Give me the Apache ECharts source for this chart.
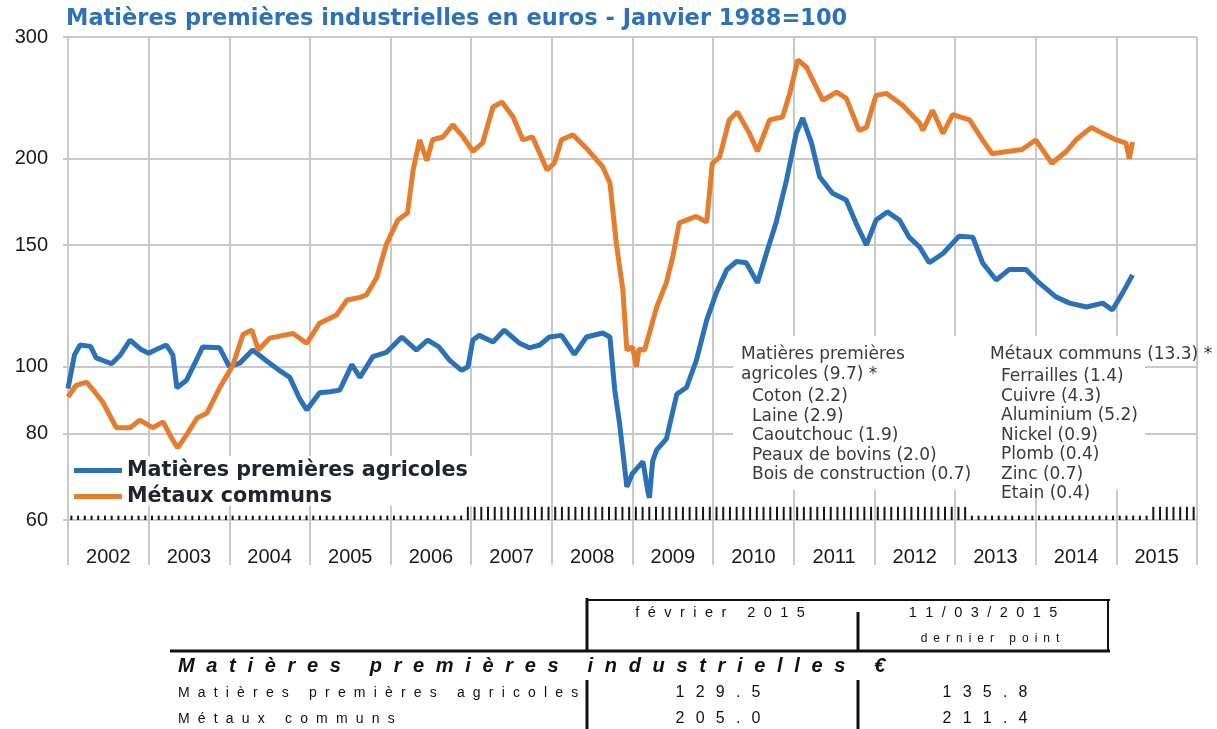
<!DOCTYPE html>
<html>
<head>
<meta charset="utf-8">
<title>Matières premières industrielles en euros</title>
<script src="https://cdn.jsdelivr.net/npm/echarts@6/dist/echarts.min.js"></script>
<style>
  html, body { margin: 0; padding: 0; background: #fff; }
  #main { width: 1217px; height: 729px; }
</style>
</head>
<body>
<div id="main"></div>
<script>
// ---- données (indice, janvier 1988 = 100) ----
var years = ['2002', '2003', '2004', '2005', '2006', '2007', '2008', '2009', '2010', '2011', '2012', '2013', '2014', '2015'];
var yTicks = [60, 80, 100, 150, 200, 300];

var agriDates = [2002.00, 2002.08, 2002.15, 2002.28, 2002.35, 2002.54, 2002.65, 2002.77, 2002.90, 2003.00,
  2003.10, 2003.22, 2003.30, 2003.35, 2003.47, 2003.57, 2003.67, 2003.88, 2004.00, 2004.13,
  2004.29, 2004.46, 2004.63, 2004.75, 2004.87, 2004.96, 2005.12, 2005.25, 2005.37, 2005.52,
  2005.62, 2005.78, 2005.95, 2006.14, 2006.32, 2006.46, 2006.60, 2006.73, 2006.88, 2006.96,
  2007.02, 2007.10, 2007.27, 2007.41, 2007.60, 2007.72, 2007.85, 2007.97, 2008.12, 2008.28,
  2008.43, 2008.63, 2008.72, 2008.78, 2008.84, 2008.93, 2009.00, 2009.13, 2009.19, 2009.21,
  2009.25, 2009.30, 2009.42, 2009.55, 2009.67, 2009.79, 2009.92, 2010.04, 2010.17, 2010.29,
  2010.41, 2010.55, 2010.66, 2010.78, 2010.91, 2011.03, 2011.11, 2011.22, 2011.32, 2011.48,
  2011.65, 2011.77, 2011.90, 2012.02, 2012.16, 2012.31, 2012.43, 2012.56, 2012.68, 2012.85,
  2013.05, 2013.22, 2013.34, 2013.51, 2013.67, 2013.88, 2014.04, 2014.25, 2014.42, 2014.63,
  2014.83, 2014.95, 2015.08, 2015.20];
var agriValues = [93, 104, 107.5, 107, 103, 101, 104, 109.3, 106, 104.6,
  106, 107.5, 104, 93.2, 95.6, 101, 106.8, 106.5, 100, 101.2,
  105.7, 102, 98.6, 96.5, 90, 86.6, 91.7, 92, 92.5, 100.7,
  96.5, 103.4, 104.9, 110.4, 105.7, 109.3, 106.8, 102.2, 98.8, 100,
  109.3, 111, 108.6, 113, 108.1, 106.5, 107.5, 110.4, 111, 104.2,
  110.4, 111.9, 110.4, 92.5, 82.7, 67, 70.1, 72.9, 66, 64.6,
  73, 75.8, 78.6, 91.3, 93.3, 102, 116.8, 128, 138.2, 142,
  141.4, 132.3, 145.8, 161.5, 186.3, 217.6, 229, 210.6, 188.3, 178.2,
  174.3, 161.5, 150, 163, 167.5, 163, 154, 149, 141.4, 145.8,
  154.5, 154, 141.4, 133.5, 138.2, 138.2, 132.3, 126.2, 123.6, 122,
  123.6, 120.8, 128, 135.8];

var metalDates = [2002.00, 2002.10, 2002.23, 2002.33, 2002.43, 2002.60, 2002.77, 2002.89, 2003.05, 2003.18,
  2003.28, 2003.36, 2003.48, 2003.60, 2003.72, 2003.88, 2004.04, 2004.17, 2004.28, 2004.36,
  2004.50, 2004.79, 2004.96, 2005.12, 2005.33, 2005.46, 2005.62, 2005.70, 2005.83, 2005.95,
  2006.09, 2006.21, 2006.28, 2006.36, 2006.45, 2006.52, 2006.65, 2006.77, 2006.90, 2007.02,
  2007.14, 2007.27, 2007.38, 2007.52, 2007.64, 2007.76, 2007.94, 2008.03, 2008.12, 2008.26,
  2008.43, 2008.63, 2008.72, 2008.80, 2008.88, 2008.93, 2009.00, 2009.05, 2009.08, 2009.15,
  2009.30, 2009.42, 2009.50, 2009.58, 2009.79, 2009.92, 2009.99, 2010.08, 2010.20, 2010.30,
  2010.45, 2010.55, 2010.70, 2010.86, 2010.95, 2011.05, 2011.16, 2011.28, 2011.36, 2011.53,
  2011.65, 2011.81, 2011.90, 2012.02, 2012.15, 2012.35, 2012.56, 2012.60, 2012.72, 2012.85,
  2012.97, 2013.18, 2013.34, 2013.46, 2013.67, 2013.83, 2014.00, 2014.20, 2014.38, 2014.50,
  2014.69, 2014.83, 2015.00, 2015.12, 2015.16, 2015.20];
var metalValues = [90.4, 94, 95, 92, 88.9, 81.6, 81.6, 83.7, 81.6, 83.2,
  79, 76.3, 80, 84.3, 85.6, 93.2, 100.2, 111.3, 113, 105.7,
  110, 111.7, 108.1, 115.6, 118.8, 124.9, 126, 127, 134.7, 150.6,
  163, 166.9, 192.6, 212.9, 198.7, 213, 215, 224, 215, 205,
  210.6, 237.6, 241.5, 229.8, 212.9, 215, 192.6, 197, 213, 216.6,
  207, 194.7, 184.4, 150.6, 129.3, 105.7, 106.8, 100, 106, 105.7,
  122, 132.3, 144.3, 161.5, 165, 162, 197, 201, 227.6, 233.7,
  217.6, 205, 227.6, 229.8, 248.6, 278, 271, 253.6, 243, 249.6,
  244.7, 219.8, 222, 247, 248.6, 239, 225.3, 219.8, 235, 217.6,
  231.6, 227.6, 212.9, 203.3, 205, 206.2, 212.9, 197, 205, 213,
  222, 217.6, 212.9, 210.6, 200, 211.4];

// petites graduations mensuelles du bas : périodes où elles sont hautes
var tallTickPeriods = [[2006.92, 2013.17], [2015.42, 2016]];

var agriTitle = ['Matières premières', 'agricoles (9.7) *'];
var agriWeights = ['Coton (2.2)', 'Laine (2.9)', 'Caoutchouc (1.9)', 'Peaux de bovins (2.0)', 'Bois de construction (0.7)'];
var metalTitle = 'Métaux communs (13.3) *';
var metalWeights = ['Ferrailles (1.4)', 'Cuivre (4.3)', 'Aluminium (5.2)', 'Nickel (0.9)', 'Plomb (0.4)', 'Zinc (0.7)', 'Etain (0.4)'];

var tableHead = ['février 2015', '11/03/2015', 'dernier point'];
var tableGroup = 'Matières premières industrielles €';
var tableRows = ['Matières premières agricoles', 'Métaux communs'];
var febValues = ['129.5', '205.0'];
var lastValues = ['135.8', '211.4'];

// ---- construction ----
var BLUE = '#2a71b8', ORANGE = '#e67d2e', GRID = '#c9c9c9';
var wide = '"DejaVu Sans", "Noto Sans", sans-serif';
var arial = '"Liberation Sans", Arial, sans-serif';

function pts(dates, values) {
  return dates.map(function (d, i) { return [d, Math.log10(values[i])]; });
}
function spaced(s, gap) {
  return s.split('').join(gap);
}

var tickBars = [];
for (var y = 2002; y < 2016; y++) {
  for (var m = 0; m < 12; m++) {
    var t = y + (m + 0.5) / 12;
    var tall = tallTickPeriods.some(function (p) { return t >= p[0] && t < p[1]; });
    tickBars.push([t, tall ? 3 : 1]);
  }
}

var yTickPos = yTicks.map(function (v) { return Math.log10(v); });

var graphics = [
  // fonds blancs sous la légende et sous l'encadré des pondérations
  { type: 'rect', z: 1, shape: { x: 70, y: 456, width: 405, height: 50 }, style: { fill: '#fff' } },
  { type: 'rect', z: 1, shape: { x: 733, y: 336, width: 412, height: 154 }, style: { fill: '#fff' } }
];
function addText(txt, x, y, font, size, color, align, extra) {
  var st = { text: txt, x: x, y: y, fill: color, fontFamily: font, fontSize: size, align: align || 'left', verticalAlign: 'middle' };
  if (extra) for (var k in extra) st[k] = extra[k];
  graphics.push({ type: 'text', z: 5, style: st });
}
function addLine(x1, y1, x2, y2, w) {
  graphics.push({ type: 'line', z: 5, shape: { x1: x1, y1: y1, x2: x2, y2: y2 }, style: { stroke: '#111', lineWidth: w } });
}

agriTitle.forEach(function (s, i) { addText(s, 741, 355 + i * 20, wide, 17, '#3a3a3a'); });
agriWeights.forEach(function (s, i) { addText(s, 752, 397 + i * 19.5, wide, 17, '#3a3a3a'); });
addText(metalTitle, 990, 355, wide, 17, '#3a3a3a');
metalWeights.forEach(function (s, i) { addText(s, 1001, 377 + i * 19.5, wide, 17, '#3a3a3a'); });

// tableau du bas
addLine(587, 600, 1110, 600, 2);
addLine(587, 598, 587, 652, 3);
addLine(858, 612, 858, 652, 3);
addLine(1108, 600, 1108, 652, 2);
addLine(170, 651, 1110, 651, 3);
addLine(587, 680, 587, 729, 3);
addLine(858, 680, 858, 729, 3);
addText(spaced(tableHead[0], '\u2002\u200a'), 720, 613, arial, 14.5, '#111', 'center');
addText(spaced(tableHead[1], '\u2002\u200a'), 983, 613, arial, 14.5, '#111', 'center');
addText(spaced(tableHead[2], '\u2002'), 990, 639, arial, 12, '#111', 'center');
addText(spaced(tableGroup, '\u2002\u200a'), 178, 666, arial, 20, '#111', 'left', { fontWeight: 'bold', fontStyle: 'italic' });
tableRows.forEach(function (s, i) {
  var yy = 693 + i * 26;
  addText(spaced(s, '\u2002\u200a'), 178, yy, arial, 14, '#111');
  addText(spaced(febValues[i], '\u2002\u2009'), 718, yy, arial, 16, '#111', 'center');
  addText(spaced(lastValues[i], '\u2002\u2009'), 985, yy, arial, 16, '#111', 'center');
});

var myChart = echarts.init(document.getElementById('main'));

var option = {
  animation: false,
  backgroundColor: '#fff',
  title: {
    text: 'Matières premières industrielles en euros - Janvier 1988=100',
    left: 66,
    top: 8,
    padding: 0,
    textStyle: { color: '#2f70bb', fontSize: 22.5, fontWeight: 'bold', fontFamily: wide }
  },
  legend: {
    data: ['Matières premières agricoles', 'Métaux communs'],
    orient: 'vertical',
    left: 74,
    top: 460,
    padding: 0,
    itemGap: 5,
    itemWidth: 48,
    itemHeight: 5,
    icon: 'rect',
    textStyle: { fontSize: 20.7, fontWeight: 'bold', color: '#23232f', fontFamily: wide }
  },
  grid: { left: 68, right: 20, top: 37, bottom: 209 },
  xAxis: [
    {
      type: 'category',
      data: years,
      boundaryGap: true,
      axisLine: { show: false },
      axisTick: { show: true, interval: 0, length: 45, lineStyle: { color: GRID, width: 2 } },
      axisLabel: { interval: 0, margin: 27, fontSize: 20, color: '#1a1a1a', fontFamily: arial },
      splitLine: { show: true, interval: 0, lineStyle: { color: GRID, width: 2 } }
    },
    { type: 'value', min: 2002, max: 2016, show: false }
  ],
  yAxis: [
    {
      type: 'value',
      min: Math.log10(60),
      max: Math.log10(300),
      axisLine: { show: false },
      axisTick: { show: true, length: 5, customValues: yTickPos, lineStyle: { color: GRID, width: 2 } },
      axisLabel: {
        customValues: yTickPos,
        margin: 20,
        fontSize: 20,
        color: '#1a1a1a',
        fontFamily: arial,
        formatter: function (v) { return Math.round(Math.pow(10, v)); }
      },
      splitLine: { show: true, lineStyle: { color: GRID, width: 2 } }
    },
    { type: 'value', min: 0, max: 110, show: false }
  ],
  series: [
    {
      name: 'Matières premières agricoles',
      type: 'line',
      xAxisIndex: 1,
      yAxisIndex: 0,
      data: pts(agriDates, agriValues),
      symbol: 'none',
      lineStyle: { color: BLUE, width: 5 },
      itemStyle: { color: BLUE },
      z: 3
    },
    {
      name: 'Métaux communs',
      type: 'line',
      xAxisIndex: 1,
      yAxisIndex: 0,
      data: pts(metalDates, metalValues),
      symbol: 'none',
      lineStyle: { color: ORANGE, width: 5 },
      itemStyle: { color: ORANGE },
      z: 3
    },
    {
      name: 'graduations',
      type: 'bar',
      xAxisIndex: 1,
      yAxisIndex: 1,
      data: tickBars,
      barWidth: 2,
      silent: true,
      itemStyle: { color: '#151515' }
    }
  ],
  graphic: graphics
};

myChart.setOption(option);
</script>
</body>
</html>
